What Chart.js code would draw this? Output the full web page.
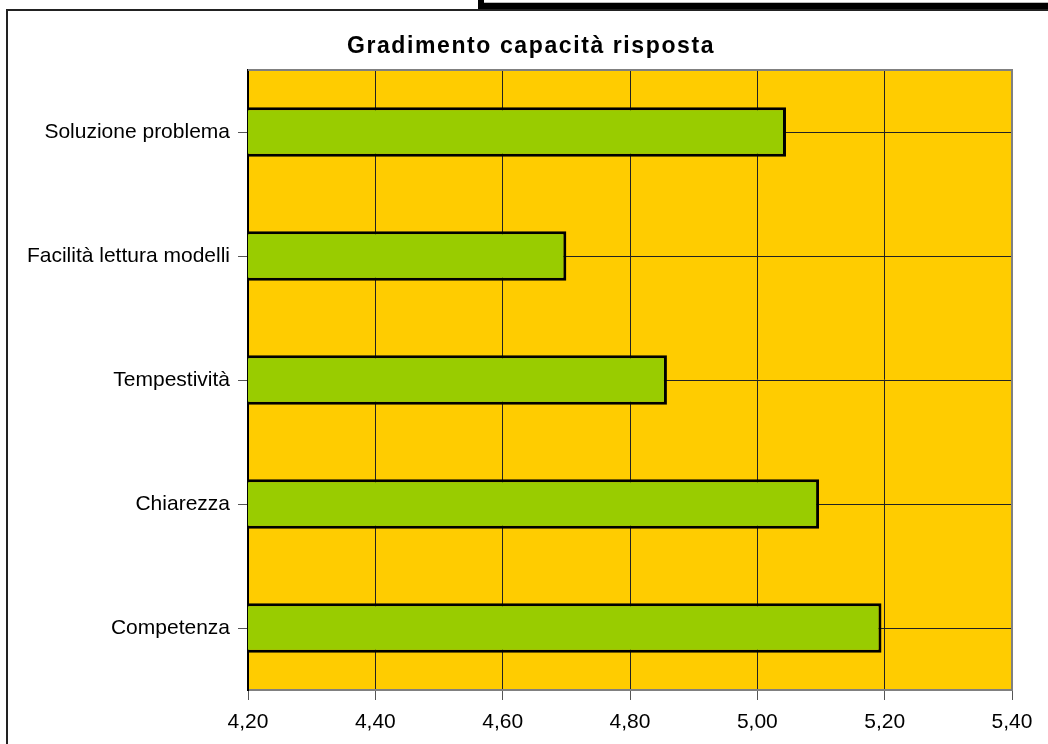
<!DOCTYPE html>
<html>
<head>
<meta charset="utf-8">
<script src="https://cdn.jsdelivr.net/npm/chart.js@4.4.1/dist/chart.umd.min.js"></script>
<style>
  body { margin: 0; background: #fff; overflow: hidden; }
  #frame { position: absolute; left: 6px; top: 9px; width: 1100px; height: 800px; border-left: 2px solid #222; border-top: 2px solid #222; }
  #tag { position: absolute; left: 478px; top: 0; width: 600px; height: 3px; background: #fff; border-left: 6px solid #000; border-bottom: 6px solid #000; box-shadow: inset 0 -1px 0 #bbb; }
  #wrap { position: absolute; left: 0; top: 0; width: 1048px; height: 744px; }
</style>
</head>
<body>
<div id="frame"></div>
<div id="tag"></div>
<div id="wrap"><canvas id="chart" width="1048" height="744"></canvas></div>
<script>
const categories = ['Soluzione problema', 'Facilità lettura modelli', 'Tempestività', 'Chiarezza', 'Competenza'];
const values = [5.045, 4.70, 4.858, 5.097, 5.195];
const axisMin = 4.2;
const axisMax = 5.4;
const axisStep = 0.2;
const chartTitle = 'Gradimento capacità risposta';

// fill the plot area, draw its top/right edge and the spaced-out title
const plotArea = {
  id: 'plotArea',
  beforeDraw(chart) {
    const { ctx, chartArea: a } = chart;
    ctx.save();
    ctx.fillStyle = '#FFCC00';
    ctx.fillRect(a.left, a.top, a.right - a.left, a.bottom - a.top);
    ctx.restore();
  },
  afterDatasetsDraw(chart) {
    const { ctx, chartArea: a } = chart;
    ctx.save();
    ctx.strokeStyle = '#808080';
    ctx.lineWidth = 2;
    ctx.beginPath();
    ctx.moveTo(a.left, a.top);
    ctx.lineTo(a.right, a.top);
    ctx.lineTo(a.right, a.bottom);
    ctx.stroke();
    ctx.restore();
  },
  afterDraw(chart) {
    const ctx = chart.ctx;
    ctx.save();
    ctx.font = 'bold 23px "Liberation Sans", Arial, sans-serif';
    ctx.letterSpacing = '1.6px';
    ctx.fillStyle = '#000';
    ctx.textAlign = 'center';
    ctx.textBaseline = 'alphabetic';
    ctx.fillText(chartTitle, 531, 53);
    ctx.restore();
  }
};

new Chart(document.getElementById('chart'), {
  type: 'bar',
  data: {
    labels: categories,
    datasets: [{
      data: values,
      backgroundColor: '#99CC00',
      borderColor: '#000',
      borderWidth: 3,
      borderSkipped: false,
      barPercentage: 0.4,
      categoryPercentage: 1
    }]
  },
  options: {
    indexAxis: 'y',
    responsive: false,
    animation: false,
    layout: { padding: { left: 0, right: 36, top: 70, bottom: 0 } },
    plugins: {
      legend: { display: false },
      tooltip: { enabled: false },
      title: { display: false }
    },
    scales: {
      x: {
        min: axisMin,
        max: axisMax,
        ticks: {
          stepSize: axisStep,
          color: '#000',
          padding: 10,
          font: { family: 'Liberation Sans', size: 21 },
          maxRotation: 0,
          callback: v => v.toFixed(2).replace('.', ',')
        },
        grid: { color: '#222', lineWidth: 1, tickLength: 10, tickColor: '#555' },
        border: { color: '#808080', width: 2 },
        afterFit(s) { s.height = 54; }
      },
      y: {
        ticks: {
          color: '#000',
          padding: 8,
          font: { family: 'Liberation Sans', size: 21 }
        },
        grid: { color: '#222', lineWidth: 1, offset: false, tickLength: 10, tickColor: '#555' },
        border: { color: '#000', width: 2 },
        afterFit(s) { s.width = 248; }
      }
    }
  },
  plugins: [plotArea]
});
</script>
</body>
</html>
